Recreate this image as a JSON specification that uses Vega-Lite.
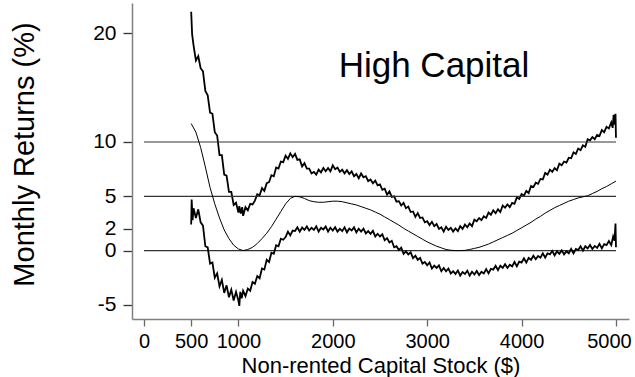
{
  "$schema": "https://vega.github.io/schema/vega-lite/v6.json",
  "autosize": "none",
  "width": 497,
  "height": 316,
  "padding": {"left": 132, "top": 3, "right": 6, "bottom": 58},
  "background": "white",
  "config": {
    "font": "Liberation Sans",
    "view": {"stroke": null},
    "axis": {"grid": false, "labelColor": "black", "titleColor": "black", "titleFontWeight": "normal", "labelOverlap": false, "labelFlush": false}
  },
  "datasets": {
    "refs": [{"y": 0}, {"y": 5}, {"y": 10}],
    "upper": [
      {"x":500,"y":22.0},{"x":510,"y":19.9},{"x":525,"y":18.9},{"x":550,"y":17.5},{"x":575,"y":17.9},{"x":600,"y":16.8},{"x":625,"y":16.5},{"x":650,"y":14.7},{"x":675,"y":14.3},{"x":700,"y":12.7},{"x":725,"y":12.6},{"x":750,"y":10.9},{"x":775,"y":10.6},{"x":800,"y":8.8},{"x":825,"y":8.8},{"x":850,"y":7.0},{"x":875,"y":6.9},{"x":900,"y":5.4},{"x":925,"y":5.4},{"x":950,"y":4.2},{"x":975,"y":4.4},{"x":1000,"y":3.5},{"x":1010,"y":4.1},{"x":1025,"y":3.4},{"x":1040,"y":4.0},{"x":1050,"y":3.2},{"x":1075,"y":4.0},{"x":1100,"y":3.7},{"x":1125,"y":4.3},{"x":1150,"y":4.25},{"x":1175,"y":4.6},{"x":1200,"y":5.2},{"x":1225,"y":5.1},{"x":1250,"y":5.75},{"x":1275,"y":5.5},{"x":1300,"y":6.2},{"x":1325,"y":6.3},{"x":1350,"y":6.95},{"x":1375,"y":6.85},{"x":1400,"y":7.65},{"x":1425,"y":7.55},{"x":1450,"y":8.2},{"x":1475,"y":8.15},{"x":1500,"y":8.75},{"x":1525,"y":8.45},{"x":1550,"y":8.95},{"x":1575,"y":8.6},{"x":1600,"y":8.9},{"x":1625,"y":8.35},{"x":1650,"y":8.4},{"x":1675,"y":7.75},{"x":1700,"y":8.05},{"x":1725,"y":7.55},{"x":1750,"y":7.55},{"x":1775,"y":7.1},{"x":1800,"y":7.25},{"x":1825,"y":7.0},{"x":1850,"y":7.45},{"x":1875,"y":7.2},{"x":1900,"y":7.6},{"x":1925,"y":7.3},{"x":1950,"y":7.6},{"x":1975,"y":7.3},{"x":2000,"y":7.85},{"x":2025,"y":7.5},{"x":2050,"y":7.65},{"x":2075,"y":7.25},{"x":2100,"y":7.45},{"x":2125,"y":7.1},{"x":2150,"y":7.4},{"x":2175,"y":7.05},{"x":2200,"y":7.3},{"x":2225,"y":6.85},{"x":2250,"y":7.05},{"x":2275,"y":6.65},{"x":2300,"y":7.1},{"x":2325,"y":6.75},{"x":2350,"y":6.85},{"x":2375,"y":6.4},{"x":2400,"y":6.55},{"x":2425,"y":6.2},{"x":2450,"y":6.45},{"x":2475,"y":6.0},{"x":2500,"y":6.1},{"x":2525,"y":5.6},{"x":2550,"y":5.7},{"x":2575,"y":5.15},{"x":2600,"y":5.45},{"x":2625,"y":4.95},{"x":2650,"y":5.0},{"x":2675,"y":4.5},{"x":2700,"y":4.55},{"x":2725,"y":4.15},{"x":2750,"y":4.4},{"x":2775,"y":3.9},{"x":2800,"y":4.05},{"x":2825,"y":3.55},{"x":2850,"y":3.6},{"x":2875,"y":3.1},{"x":2900,"y":3.45},{"x":2925,"y":3.0},{"x":2950,"y":3.05},{"x":2975,"y":2.6},{"x":3000,"y":2.7},{"x":3025,"y":2.35},{"x":3050,"y":2.65},{"x":3075,"y":2.25},{"x":3100,"y":2.45},{"x":3125,"y":2.0},{"x":3150,"y":2.15},{"x":3175,"y":1.75},{"x":3200,"y":2.2},{"x":3225,"y":1.9},{"x":3250,"y":2.1},{"x":3275,"y":1.75},{"x":3300,"y":2.05},{"x":3325,"y":1.8},{"x":3350,"y":2.25},{"x":3375,"y":2.0},{"x":3400,"y":2.4},{"x":3425,"y":2.15},{"x":3450,"y":2.5},{"x":3475,"y":2.25},{"x":3500,"y":2.85},{"x":3525,"y":2.7},{"x":3550,"y":3.0},{"x":3575,"y":2.8},{"x":3600,"y":3.15},{"x":3625,"y":3.0},{"x":3650,"y":3.5},{"x":3675,"y":3.3},{"x":3700,"y":3.7},{"x":3725,"y":3.45},{"x":3750,"y":3.8},{"x":3775,"y":3.55},{"x":3800,"y":4.15},{"x":3825,"y":3.95},{"x":3850,"y":4.25},{"x":3875,"y":4.0},{"x":3900,"y":4.4},{"x":3925,"y":4.3},{"x":3950,"y":4.9},{"x":3975,"y":4.75},{"x":4000,"y":5.2},{"x":4025,"y":5.05},{"x":4050,"y":5.5},{"x":4075,"y":5.3},{"x":4100,"y":5.95},{"x":4125,"y":5.85},{"x":4150,"y":6.25},{"x":4175,"y":6.15},{"x":4200,"y":6.6},{"x":4225,"y":6.55},{"x":4250,"y":7.15},{"x":4275,"y":7.0},{"x":4300,"y":7.45},{"x":4325,"y":7.25},{"x":4350,"y":7.6},{"x":4375,"y":7.4},{"x":4400,"y":8.0},{"x":4425,"y":7.85},{"x":4450,"y":8.2},{"x":4475,"y":8.1},{"x":4500,"y":8.55},{"x":4525,"y":8.5},{"x":4550,"y":9.05},{"x":4575,"y":8.9},{"x":4600,"y":9.4},{"x":4625,"y":9.25},{"x":4650,"y":9.7},{"x":4675,"y":9.55},{"x":4700,"y":10.25},{"x":4725,"y":10.15},{"x":4750,"y":10.45},{"x":4775,"y":10.25},{"x":4800,"y":10.65},{"x":4825,"y":10.55},{"x":4850,"y":11.1},{"x":4875,"y":10.9},{"x":4900,"y":11.4},{"x":4925,"y":11.25},{"x":4950,"y":11.8},{"x":4965,"y":11.3},{"x":4975,"y":12.5},{"x":4985,"y":11.6},{"x":4995,"y":12.6},{"x":5000,"y":10.4}
    ],
    "lower": [
      {"x":500,"y":2.4},{"x":505,"y":4.7},{"x":515,"y":2.8},{"x":525,"y":3.9},{"x":550,"y":3.0},{"x":575,"y":3.8},{"x":600,"y":2.6},{"x":625,"y":2.3},{"x":650,"y":0.4},{"x":675,"y":0.3},{"x":700,"y":-1.2},{"x":725,"y":-1.1},{"x":750,"y":-2.5},{"x":775,"y":-2.1},{"x":800,"y":-3.3},{"x":825,"y":-2.7},{"x":850,"y":-3.9},{"x":875,"y":-3.2},{"x":900,"y":-4.3},{"x":925,"y":-3.6},{"x":950,"y":-4.6},{"x":975,"y":-3.8},{"x":1000,"y":-4.6},{"x":1010,"y":-5.1},{"x":1020,"y":-3.8},{"x":1035,"y":-4.4},{"x":1050,"y":-3.7},{"x":1075,"y":-4.2},{"x":1100,"y":-3.5},{"x":1125,"y":-3.7},{"x":1150,"y":-2.9},{"x":1175,"y":-3.05},{"x":1200,"y":-2.35},{"x":1225,"y":-2.55},{"x":1250,"y":-1.65},{"x":1275,"y":-1.75},{"x":1300,"y":-0.85},{"x":1325,"y":-1.05},{"x":1350,"y":-0.2},{"x":1375,"y":-0.3},{"x":1400,"y":0.5},{"x":1425,"y":0.4},{"x":1450,"y":1.1},{"x":1475,"y":1.0},{"x":1500,"y":1.25},{"x":1525,"y":1.75},{"x":1550,"y":1.4},{"x":1575,"y":1.85},{"x":1600,"y":1.8},{"x":1625,"y":2.15},{"x":1650,"y":1.75},{"x":1675,"y":2.12},{"x":1700,"y":1.9},{"x":1725,"y":2.22},{"x":1750,"y":1.85},{"x":1775,"y":2.1},{"x":1800,"y":1.9},{"x":1825,"y":2.23},{"x":1850,"y":1.75},{"x":1875,"y":2.1},{"x":1900,"y":1.95},{"x":1925,"y":2.22},{"x":1950,"y":1.75},{"x":1975,"y":2.1},{"x":2000,"y":1.85},{"x":2025,"y":2.15},{"x":2050,"y":1.75},{"x":2075,"y":2.0},{"x":2100,"y":1.8},{"x":2125,"y":2.14},{"x":2150,"y":1.68},{"x":2175,"y":2.02},{"x":2200,"y":1.85},{"x":2225,"y":2.14},{"x":2250,"y":1.68},{"x":2275,"y":2.01},{"x":2300,"y":1.75},{"x":2325,"y":2.02},{"x":2350,"y":1.58},{"x":2375,"y":1.79},{"x":2400,"y":1.55},{"x":2425,"y":1.82},{"x":2450,"y":1.3},{"x":2475,"y":1.55},{"x":2500,"y":1.3},{"x":2525,"y":1.5},{"x":2550,"y":0.95},{"x":2575,"y":1.15},{"x":2600,"y":0.75},{"x":2625,"y":0.9},{"x":2650,"y":0.3},{"x":2675,"y":0.4},{"x":2700,"y":0.05},{"x":2725,"y":0.28},{"x":2750,"y":-0.3},{"x":2775,"y":-0.08},{"x":2800,"y":-0.35},{"x":2825,"y":-0.15},{"x":2850,"y":-0.7},{"x":2875,"y":-0.47},{"x":2900,"y":-0.85},{"x":2925,"y":-0.68},{"x":2950,"y":-1.2},{"x":2975,"y":-1.05},{"x":3000,"y":-1.35},{"x":3025,"y":-1.1},{"x":3050,"y":-1.65},{"x":3075,"y":-1.38},{"x":3100,"y":-1.6},{"x":3125,"y":-1.37},{"x":3150,"y":-1.9},{"x":3175,"y":-1.6},{"x":3200,"y":-1.9},{"x":3225,"y":-1.65},{"x":3250,"y":-2.1},{"x":3275,"y":-1.9},{"x":3300,"y":-2.15},{"x":3325,"y":-1.83},{"x":3350,"y":-2.3},{"x":3375,"y":-1.98},{"x":3400,"y":-2.15},{"x":3425,"y":-1.85},{"x":3450,"y":-2.3},{"x":3475,"y":-1.95},{"x":3500,"y":-2.2},{"x":3525,"y":-1.88},{"x":3550,"y":-2.25},{"x":3575,"y":-1.95},{"x":3600,"y":-2.1},{"x":3625,"y":-1.7},{"x":3650,"y":-2.1},{"x":3675,"y":-1.68},{"x":3700,"y":-1.75},{"x":3725,"y":-1.4},{"x":3750,"y":-1.8},{"x":3775,"y":-1.4},{"x":3800,"y":-1.6},{"x":3825,"y":-1.25},{"x":3850,"y":-1.6},{"x":3875,"y":-1.3},{"x":3900,"y":-1.45},{"x":3925,"y":-1.05},{"x":3950,"y":-1.45},{"x":3975,"y":-1.02},{"x":4000,"y":-1.1},{"x":4025,"y":-0.72},{"x":4050,"y":-1.1},{"x":4075,"y":-0.67},{"x":4100,"y":-0.85},{"x":4125,"y":-0.48},{"x":4150,"y":-0.8},{"x":4175,"y":-0.5},{"x":4200,"y":-0.65},{"x":4225,"y":-0.25},{"x":4250,"y":-0.65},{"x":4275,"y":-0.25},{"x":4300,"y":-0.35},{"x":4325,"y":-0.03},{"x":4350,"y":-0.45},{"x":4375,"y":-0.07},{"x":4400,"y":-0.3},{"x":4425,"y":0.02},{"x":4450,"y":-0.35},{"x":4475,"y":-0.07},{"x":4500,"y":-0.25},{"x":4525,"y":0.15},{"x":4550,"y":-0.25},{"x":4575,"y":0.15},{"x":4600,"y":0.05},{"x":4625,"y":0.4},{"x":4650,"y":0.0},{"x":4675,"y":0.4},{"x":4700,"y":0.2},{"x":4725,"y":0.52},{"x":4750,"y":0.15},{"x":4775,"y":0.43},{"x":4800,"y":0.25},{"x":4825,"y":0.62},{"x":4850,"y":0.2},{"x":4875,"y":0.6},{"x":4900,"y":0.5},{"x":4925,"y":0.87},{"x":4950,"y":0.5},{"x":4970,"y":1.3},{"x":4985,"y":0.9},{"x":4995,"y":2.5},{"x":5000,"y":0.3}
    ],
    "mid": [
      {"x":500,"y":11.7},{"x":550,"y":10.9},{"x":600,"y":9.5},{"x":650,"y":7.7},{"x":700,"y":5.8},{"x":750,"y":4.3},{"x":800,"y":3.0},{"x":850,"y":1.9},{"x":900,"y":1.1},{"x":950,"y":0.5},{"x":1000,"y":0.15},{"x":1050,"y":0.0},{"x":1100,"y":0.1},{"x":1150,"y":0.3},{"x":1200,"y":0.65},{"x":1250,"y":1.1},{"x":1300,"y":1.6},{"x":1350,"y":2.2},{"x":1400,"y":2.9},{"x":1450,"y":3.6},{"x":1500,"y":4.3},{"x":1550,"y":4.8},{"x":1600,"y":5.0},{"x":1650,"y":4.95},{"x":1700,"y":4.8},{"x":1750,"y":4.6},{"x":1800,"y":4.5},{"x":1850,"y":4.45},{"x":1900,"y":4.45},{"x":1950,"y":4.5},{"x":2000,"y":4.55},{"x":2050,"y":4.55},{"x":2100,"y":4.5},{"x":2150,"y":4.4},{"x":2200,"y":4.3},{"x":2250,"y":4.2},{"x":2300,"y":4.05},{"x":2350,"y":3.9},{"x":2400,"y":3.75},{"x":2450,"y":3.55},{"x":2500,"y":3.35},{"x":2550,"y":3.1},{"x":2600,"y":2.85},{"x":2650,"y":2.6},{"x":2700,"y":2.35},{"x":2750,"y":2.05},{"x":2800,"y":1.8},{"x":2850,"y":1.55},{"x":2900,"y":1.3},{"x":2950,"y":1.05},{"x":3000,"y":0.8},{"x":3050,"y":0.6},{"x":3100,"y":0.4},{"x":3150,"y":0.25},{"x":3200,"y":0.1},{"x":3250,"y":0.03},{"x":3300,"y":0.0},{"x":3350,"y":0.0},{"x":3400,"y":0.02},{"x":3450,"y":0.1},{"x":3500,"y":0.2},{"x":3550,"y":0.3},{"x":3600,"y":0.45},{"x":3650,"y":0.6},{"x":3700,"y":0.8},{"x":3750,"y":1.0},{"x":3800,"y":1.2},{"x":3850,"y":1.4},{"x":3900,"y":1.6},{"x":3950,"y":1.85},{"x":4000,"y":2.1},{"x":4050,"y":2.35},{"x":4100,"y":2.6},{"x":4150,"y":2.9},{"x":4200,"y":3.15},{"x":4250,"y":3.45},{"x":4300,"y":3.7},{"x":4350,"y":3.95},{"x":4400,"y":4.15},{"x":4450,"y":4.35},{"x":4500,"y":4.55},{"x":4550,"y":4.7},{"x":4600,"y":4.85},{"x":4650,"y":4.95},{"x":4700,"y":5.05},{"x":4750,"y":5.25},{"x":4800,"y":5.45},{"x":4850,"y":5.7},{"x":4900,"y":5.9},{"x":4950,"y":6.15},{"x":5000,"y":6.4}
    ],
    "label": [{"text": "High Capital"}]
  },
  "layer": [
    {
      "data": {"name": "upper"},
      "mark": {"type": "line", "color": "black", "strokeWidth": 1.8},
      "encoding": {
        "x": {
          "field": "x", "type": "quantitative",
          "scale": {"domain": [-127, 5138], "nice": false, "zero": false},
          "axis": {
            "title": "Non-rented Capital Stock ($)",
            "values": [0, 500, 1000, 2000, 3000, 4000, 5000],
            "labelExpr": "'' + datum.value",
            "labelFontSize": 20, "titleFontSize": 22,
            "labelOffset": {"condition": {"test": "datum.value == 5000", "value": -7}, "value": 0},
            "tickSize": 7, "labelPadding": 5,
            "domainColor": "#808080", "domainWidth": 1.5,
            "tickColor": "#666666", "tickWidth": 1.3,
            "titleBaseline": "alphabetic", "titleY": 53
          }
        },
        "y": {
          "field": "y", "type": "quantitative",
          "scale": {"domain": [-6.3, 22.8], "nice": false, "zero": false},
          "axis": {
            "title": "Monthly Returns (%)",
            "values": [-5, 0, 2, 5, 10, 20],
            "labelExpr": "'' + datum.value",
            "labelFontSize": 21, "titleFontSize": 29,
            "tickSize": 9, "labelPadding": 7,
            "domainColor": "#808080", "domainWidth": 1.5,
            "tickColor": "#333333", "tickWidth": 1.3,
            "titleBaseline": "alphabetic", "titleX": -99, "titleY": 151
          }
        }
      }
    },
    {
      "data": {"name": "refs"},
      "mark": {"type": "rule", "color": "#333333", "strokeWidth": 1.2},
      "encoding": {
        "x": {"datum": 0, "type": "quantitative", "scale": {"domain": [-127, 5138], "nice": false, "zero": false}},
        "x2": {"datum": 5000},
        "y": {"field": "y", "type": "quantitative", "scale": {"domain": [-6.3, 22.8], "nice": false, "zero": false}}
      }
    },
    {
      "data": {"name": "lower"},
      "mark": {"type": "line", "color": "black", "strokeWidth": 1.8},
      "encoding": {
        "x": {"field": "x", "type": "quantitative", "scale": {"domain": [-127, 5138], "nice": false, "zero": false}},
        "y": {"field": "y", "type": "quantitative", "scale": {"domain": [-6.3, 22.8], "nice": false, "zero": false}}
      }
    },
    {
      "data": {"name": "mid"},
      "mark": {"type": "line", "color": "black", "strokeWidth": 1},
      "encoding": {
        "x": {"field": "x", "type": "quantitative", "scale": {"domain": [-127, 5138], "nice": false, "zero": false}},
        "y": {"field": "y", "type": "quantitative", "scale": {"domain": [-6.3, 22.8], "nice": false, "zero": false}}
      }
    },
    {
      "data": {"name": "label"},
      "mark": {"type": "text", "fontSize": 35, "align": "center", "baseline": "alphabetic", "color": "black"},
      "encoding": {
        "x": {"datum": 3072, "type": "quantitative", "scale": {"domain": [-127, 5138], "nice": false, "zero": false}},
        "y": {"datum": 16.0, "type": "quantitative", "scale": {"domain": [-6.3, 22.8], "nice": false, "zero": false}},
        "text": {"field": "text"}
      }
    }
  ]
}
